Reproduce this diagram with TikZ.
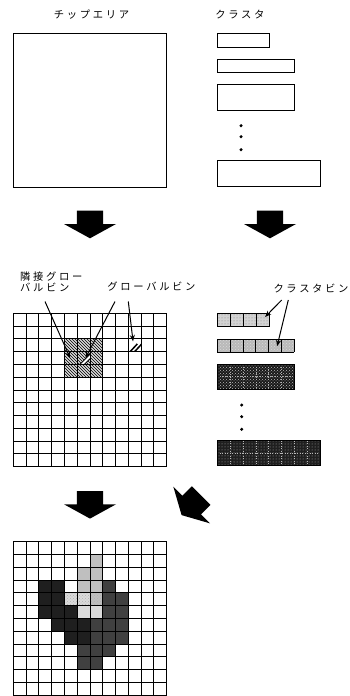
\documentclass[tikz,border=0pt]{standalone}
\usepackage{fontspec}
\newfontfamily\jp[LetterSpace=26]{Noto Sans CJK JP}
\usetikzlibrary{patterns,arrows.meta}
\begin{document}
\begin{tikzpicture}[x=1pt,y=-1pt,
  lbl/.style={font=\jp\fontsize{10.3}{11}\selectfont, inner sep=0pt},
  box/.style={draw=black, line width=0.8pt, inner sep=0pt, fill=white},
  gline/.style={line width=0.8pt, black},
  ptr/.style={line width=1pt, -{Stealth[length=6.5pt,width=5pt]}},
  dotnode/.style={circle, fill=black, inner sep=0pt, minimum size=3.4pt},
  blockarrow/.pic={\fill[black] (-13.2,-13.3) -- (13.2,-13.3) -- (13.2,0) -- (26,0) -- (0,14.3) -- (-26,0) -- (-13.2,0) -- cycle;}
]
\fill[white] (0,0) rectangle (350,696);
\useasboundingbox (0,0) rectangle (350,696);

% ---------- top ----------
\node[lbl] (tchip) at (91.5,15) {チップエリア};
\node[lbl] (tclu) at (240,15) {クラスタ};
\node[box, minimum width=153.4pt, minimum height=154pt] (chip) at (90,110.3) {};
\node[box, minimum width=52.3pt, minimum height=14pt] (c1) at (243.2,40.3) {};
\node[box, minimum width=77.3pt, minimum height=13pt] (c2) at (255.7,65.5) {};
\node[box, minimum width=77.3pt, minimum height=25.3pt] (c3) at (255.7,97.3) {};
\node[dotnode] (d1) at (241,125.7) {};
\node[dotnode] (d2) at (241,136.7) {};
\node[dotnode] (d3) at (241,149.7) {};
\node[box, minimum width=103.3pt, minimum height=26pt] (c4) at (268.7,173.7) {};

\pic at (90,224) {blockarrow};
\pic at (270,224) {blockarrow};

% ---------- middle: labels ----------
\node[lbl, anchor=west, align=left] (lnb) at (20,282) {隣接グロー\\バルビン};
\node[lbl] (lgb) at (151.5,287) {グローバルビン};
\node[lbl] (lcb) at (311,288.3) {クラスタビン};

% ---------- middle grid ----------
\begin{scope}[shift={(13.3,313.3)}, x=12.78pt, y=-12.78pt]
  \fill[gray!30] (4,2) rectangle (7,5);
  \fill[pattern=north west lines] (4,2) rectangle (7,5);
  % central global bin
  \begin{scope}
    \clip (5,3) rectangle (6,4);
    \fill[white] (5.2,4) -- (5.55,4) -- (6,3.55) -- (6,3.2) -- cycle;
    \draw[line width=0.9pt] (5.2,4) -- (6,3.2);
    \draw[line width=0.9pt] (5.55,4) -- (6,3.55);
  \end{scope}
  % isolated global bin
  \begin{scope}
    \clip (9,2) rectangle (10,3);
    \draw[line width=1.5pt] (9.1,3.05) -- (9.7,2.4);
    \draw[line width=1.5pt] (9.45,3.05) -- (10.05,2.4);
  \end{scope}
  \foreach \i in {0,...,12} {
    \draw[gline] (\i,0) -- (\i,12);
    \draw[gline] (0,\i) -- (12,\i);
  }
  \coordinate (t1) at (4.45,3.5);
  \coordinate (t2) at (5.65,3.5);
  \coordinate (t3) at (9.37,2.2);
\end{scope}
\coordinate (s1) at (45,301.5);
\coordinate (s2) at (115,301.5);
\coordinate (s3) at (128.3,301.5);
\draw[ptr] (s1) -- (t1);
\draw[ptr] (s2) -- (t2);
\draw[ptr] (s3) -- (t3);

% ---------- cluster bins ----------
\begin{scope}[shift={(217.3,313.3)}, x=13pt, y=-13.4pt]
  \fill[gray!35] (0,0) rectangle (4,1);
  \fill[pattern=dots, pattern color=gray] (0,0) rectangle (4,1);
  \foreach \i in {0,...,4} \draw[line width=0.8pt] (\i,0) -- (\i,1);
  \draw[line width=0.8pt] (0,0) -- (4,0) (0,1) -- (4,1);
  \coordinate (b1) at (3.67,0.28);
\end{scope}
\begin{scope}[shift={(217.3,339)}, x=12.83pt, y=-13.3pt]
  \fill[gray!55] (0,0) rectangle (6,1);
  \fill[pattern=crosshatch dots, pattern color=gray!30] (0,0) rectangle (6,1);
  \foreach \i in {0,...,6} \draw[line width=0.8pt] (\i,0) -- (\i,1);
  \draw[line width=0.8pt] (0,0) -- (6,0) (0,1) -- (6,1);
  \coordinate (b2) at (4.66,0.55);
\end{scope}
\begin{scope}[shift={(217.3,364)}, x=12.83pt, y=-12.65pt]
  \fill[black!90] (0,0) rectangle (6,2);
  \fill[pattern=crosshatch dots, pattern color=gray!55] (0,0) rectangle (6,2);
  \foreach \i in {1,...,5} \draw[gray!60, line width=0.5pt, dotted] (\i,0) -- (\i,2);
  \draw[gray!60, line width=0.5pt, dotted] (0,1) -- (6,1);
  \draw[line width=0.8pt] (0,0) rectangle (6,2);
\end{scope}
\node[dotnode] (d4) at (241.7,405) {};
\node[dotnode] (d5) at (241.7,416.7) {};
\node[dotnode] (d6) at (241.7,429.3) {};
\begin{scope}[shift={(217.3,440.7)}, x=12.84pt, y=-12.5pt]
  \fill[black!88] (0,0) rectangle (8,2);
  \fill[pattern=dots, pattern color=gray!70] (0,0) rectangle (8,2);
  \foreach \i in {1,...,7} \draw[gray!55, line width=0.5pt, dotted] (\i,0) -- (\i,2);
  \draw[gray!55, line width=0.5pt, dotted] (0,1) -- (8,1);
  \draw[line width=0.8pt] (0,0) rectangle (8,2);
\end{scope}
\coordinate (s4) at (281.7,300);
\coordinate (s5) at (288.3,300);
\draw[ptr] (s4) -- (b1);
\draw[ptr] (s5) -- (b2);

% ---------- bottom ----------
\pic at (90,504.3) {blockarrow};
\pic[rotate=-45] at (191.7,505) {blockarrow};

\begin{scope}[shift={(13.3,541.7)}, x=12.78pt, y=-12.78pt]
  % light (cluster 1)
  \foreach \c/\r in {4/4,5/4,5/5,6/5}
    \fill[gray!28] (\c,\r) rectangle +(1,1);
  % medium-light (cluster 2)
  \foreach \c/\r in {6/1,5/2,6/2,5/3,6/3,6/4}
    \fill[gray!50] (\c,\r) rectangle +(1,1);
  % dark (cluster 3)
  \foreach \c/\r in {2/3,3/3,2/4,3/4,2/5,3/5,4/5,3/6,4/6,4/7,5/6,5/7}
    \fill[black!88] (\c,\r) rectangle +(1,1);
  % dark (cluster 4)
  \foreach \c/\r in {7/3,7/4,8/4,7/5,8/5,6/6,7/6,8/6,6/7,7/7,8/7,5/8,6/8,7/8,5/9,6/9}
    \fill[black!75] (\c,\r) rectangle +(1,1);
  \fill[pattern=crosshatch dots, pattern color=gray!60] (4,4) rectangle (7,5);
  \foreach \i in {0,...,12} {
    \draw[gline] (\i,0) -- (\i,12);
    \draw[gline] (0,\i) -- (12,\i);
  }
\end{scope}
\end{tikzpicture}
\end{document}
